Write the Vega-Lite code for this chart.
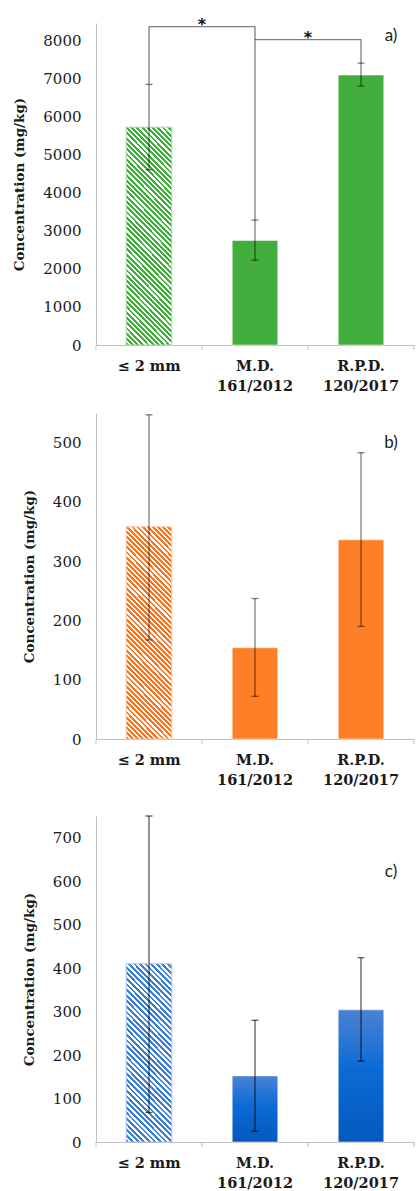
{
"$schema": "https://vega.github.io/schema/vega-lite/v6.json",
"background": "white",
"padding": {"left": 12, "top": 16, "right": 0, "bottom": 0},
"spacing": 28,
"config": {
  "view": {"stroke": null},
  "axisX": {"domainColor": "#c0c0c0", "ticks": false, "labelFont": "DejaVu Serif", "labelFontWeight": "bold", "labelFontSize": 14.5, "labelColor": "#1a1a1a", "labelAngle": 0, "labelPadding": 14, "labelLineHeight": 20, "labelExpr": "indexof(datum.value, '/') > 0 ? split(datum.value, ' ') : datum.value"},
  "axisY": {"domainColor": "#c0c0c0", "ticks": false, "grid": false, "format": "d", "labelFont": "DejaVu Serif", "labelFontSize": 15, "labelColor": "#1a1a1a", "labelPadding": 15, "titleFont": "DejaVu Serif", "titleFontSize": 13.5, "titleFontWeight": "bold", "titleColor": "#1a1a1a", "titlePadding": 16}
},
"datasets": {
  "a": [{"cat": "≤ 2 mm", "value": 5730, "lo": 4610, "hi": 6855}, {"cat": "M.D. 161/2012", "value": 2750, "lo": 2230, "hi": 3285}, {"cat": "R.P.D. 120/2017", "value": 7100, "lo": 6810, "hi": 7415}],
  "b": [{"cat": "≤ 2 mm", "value": 358, "lo": 167, "hi": 547}, {"cat": "M.D. 161/2012", "value": 154, "lo": 72, "hi": 237}, {"cat": "R.P.D. 120/2017", "value": 336, "lo": 190, "hi": 483}],
  "c": [{"cat": "≤ 2 mm", "value": 410, "lo": 68, "hi": 750}, {"cat": "M.D. 161/2012", "value": 152, "lo": 25, "hi": 280}, {"cat": "R.P.D. 120/2017", "value": 304, "lo": 186, "hi": 424}],
  "bracketV": [{"cat": "≤ 2 mm", "y": 6855, "y2": 8375}, {"cat": "M.D. 161/2012", "y": 3285, "y2": 8375}, {"cat": "R.P.D. 120/2017", "y": 7415, "y2": 8035}],
  "bracketH": [{"grp": 1, "cat": "≤ 2 mm", "y": 8375}, {"grp": 1, "cat": "M.D. 161/2012", "y": 8375}, {"grp": 2, "cat": "M.D. 161/2012", "y": 8035}, {"grp": 2, "cat": "R.P.D. 120/2017", "y": 8035}],
  "stars": [{"cat": "≤ 2 mm", "y": 8375, "text": "*"}, {"cat": "M.D. 161/2012", "y": 8035, "text": "*"}],
  "cats": [{"cat": "≤ 2 mm"}, {"cat": "M.D. 161/2012"}, {"cat": "R.P.D. 120/2017"}],
  "lastcat": [{"cat": "R.P.D. 120/2017"}],
  "tagA": [{"cat": "R.P.D. 120/2017", "y": 8120, "text": "a)"}],
  "tagB": [{"cat": "R.P.D. 120/2017", "y": 500, "text": "b)"}],
  "tagC": [{"cat": "R.P.D. 120/2017", "y": 622, "text": "c)"}]
},
"vconcat": [
{
"spacing": 20,
"vconcat": [
{
  "width": 318, "height": 322,
  "encoding": {"x": {"field": "cat", "type": "nominal", "sort": ["≤ 2 mm", "M.D. 161/2012", "R.P.D. 120/2017"], "scale": {"paddingInner": 0, "paddingOuter": 0}, "title": null}},
  "layer": [
    {"data": {"name": "a"}, "transform": [{"filter": "datum.cat != '≤ 2 mm'"}],
     "mark": {"type": "bar", "width": {"band": 0.43}, "fill": "#43ad3e", "stroke": "#ffffff", "strokeWidth": 1, "strokeOpacity": 0.5},
     "encoding": {"y": {"field": "value", "type": "quantitative", "title": "Concentration (mg/kg)", "scale": {"domain": [0, 8470], "nice": false, "zero": true}, "axis": {"values": [0, 1000, 2000, 3000, 4000, 5000, 6000, 7000, 8000]}}}},
    {"data": {"name": "a"}, "transform": [{"filter": "datum.cat == '≤ 2 mm'"}],
     "mark": {"type": "bar", "width": {"band": 0.43}, "stroke": "#a9dba6", "strokeWidth": 1,
       "fill": {"gradient": "linear", "x1": 0, "y1": 1, "x2": 0.245, "y2": -0.159, "stops": [
{"offset":0,"color":"#42ae3e"},{"offset":0.011,"color":"#42ae3e"},{"offset":0.011,"color":"#fff"},{"offset":0.02,"color":"#fff"},
{"offset":0.02,"color":"#42ae3e"},{"offset":0.031,"color":"#42ae3e"},{"offset":0.031,"color":"#fff"},{"offset":0.04,"color":"#fff"},
{"offset":0.04,"color":"#42ae3e"},{"offset":0.051,"color":"#42ae3e"},{"offset":0.051,"color":"#fff"},{"offset":0.06,"color":"#fff"},
{"offset":0.06,"color":"#42ae3e"},{"offset":0.071,"color":"#42ae3e"},{"offset":0.071,"color":"#fff"},{"offset":0.08,"color":"#fff"},
{"offset":0.08,"color":"#42ae3e"},{"offset":0.091,"color":"#42ae3e"},{"offset":0.091,"color":"#fff"},{"offset":0.1,"color":"#fff"},
{"offset":0.1,"color":"#42ae3e"},{"offset":0.111,"color":"#42ae3e"},{"offset":0.111,"color":"#fff"},{"offset":0.12,"color":"#fff"},
{"offset":0.12,"color":"#42ae3e"},{"offset":0.131,"color":"#42ae3e"},{"offset":0.131,"color":"#fff"},{"offset":0.14,"color":"#fff"},
{"offset":0.14,"color":"#42ae3e"},{"offset":0.151,"color":"#42ae3e"},{"offset":0.151,"color":"#fff"},{"offset":0.16,"color":"#fff"},
{"offset":0.16,"color":"#42ae3e"},{"offset":0.171,"color":"#42ae3e"},{"offset":0.171,"color":"#fff"},{"offset":0.18,"color":"#fff"},
{"offset":0.18,"color":"#42ae3e"},{"offset":0.191,"color":"#42ae3e"},{"offset":0.191,"color":"#fff"},{"offset":0.2,"color":"#fff"},
{"offset":0.2,"color":"#42ae3e"},{"offset":0.211,"color":"#42ae3e"},{"offset":0.211,"color":"#fff"},{"offset":0.22,"color":"#fff"},
{"offset":0.22,"color":"#42ae3e"},{"offset":0.231,"color":"#42ae3e"},{"offset":0.231,"color":"#fff"},{"offset":0.24,"color":"#fff"},
{"offset":0.24,"color":"#42ae3e"},{"offset":0.251,"color":"#42ae3e"},{"offset":0.251,"color":"#fff"},{"offset":0.26,"color":"#fff"},
{"offset":0.26,"color":"#42ae3e"},{"offset":0.271,"color":"#42ae3e"},{"offset":0.271,"color":"#fff"},{"offset":0.28,"color":"#fff"},
{"offset":0.28,"color":"#42ae3e"},{"offset":0.291,"color":"#42ae3e"},{"offset":0.291,"color":"#fff"},{"offset":0.3,"color":"#fff"},
{"offset":0.3,"color":"#42ae3e"},{"offset":0.311,"color":"#42ae3e"},{"offset":0.311,"color":"#fff"},{"offset":0.32,"color":"#fff"},
{"offset":0.32,"color":"#42ae3e"},{"offset":0.331,"color":"#42ae3e"},{"offset":0.331,"color":"#fff"},{"offset":0.34,"color":"#fff"},
{"offset":0.34,"color":"#42ae3e"},{"offset":0.351,"color":"#42ae3e"},{"offset":0.351,"color":"#fff"},{"offset":0.36,"color":"#fff"},
{"offset":0.36,"color":"#42ae3e"},{"offset":0.371,"color":"#42ae3e"},{"offset":0.371,"color":"#fff"},{"offset":0.38,"color":"#fff"},
{"offset":0.38,"color":"#42ae3e"},{"offset":0.391,"color":"#42ae3e"},{"offset":0.391,"color":"#fff"},{"offset":0.4,"color":"#fff"},
{"offset":0.4,"color":"#42ae3e"},{"offset":0.411,"color":"#42ae3e"},{"offset":0.411,"color":"#fff"},{"offset":0.42,"color":"#fff"},
{"offset":0.42,"color":"#42ae3e"},{"offset":0.431,"color":"#42ae3e"},{"offset":0.431,"color":"#fff"},{"offset":0.44,"color":"#fff"},
{"offset":0.44,"color":"#42ae3e"},{"offset":0.451,"color":"#42ae3e"},{"offset":0.451,"color":"#fff"},{"offset":0.46,"color":"#fff"},
{"offset":0.46,"color":"#42ae3e"},{"offset":0.471,"color":"#42ae3e"},{"offset":0.471,"color":"#fff"},{"offset":0.48,"color":"#fff"},
{"offset":0.48,"color":"#42ae3e"},{"offset":0.491,"color":"#42ae3e"},{"offset":0.491,"color":"#fff"},{"offset":0.5,"color":"#fff"},
{"offset":0.5,"color":"#42ae3e"},{"offset":0.511,"color":"#42ae3e"},{"offset":0.511,"color":"#fff"},{"offset":0.52,"color":"#fff"},
{"offset":0.52,"color":"#42ae3e"},{"offset":0.531,"color":"#42ae3e"},{"offset":0.531,"color":"#fff"},{"offset":0.54,"color":"#fff"},
{"offset":0.54,"color":"#42ae3e"},{"offset":0.551,"color":"#42ae3e"},{"offset":0.551,"color":"#fff"},{"offset":0.56,"color":"#fff"},
{"offset":0.56,"color":"#42ae3e"},{"offset":0.571,"color":"#42ae3e"},{"offset":0.571,"color":"#fff"},{"offset":0.58,"color":"#fff"},
{"offset":0.58,"color":"#42ae3e"},{"offset":0.591,"color":"#42ae3e"},{"offset":0.591,"color":"#fff"},{"offset":0.6,"color":"#fff"},
{"offset":0.6,"color":"#42ae3e"},{"offset":0.611,"color":"#42ae3e"},{"offset":0.611,"color":"#fff"},{"offset":0.62,"color":"#fff"},
{"offset":0.62,"color":"#42ae3e"},{"offset":0.631,"color":"#42ae3e"},{"offset":0.631,"color":"#fff"},{"offset":0.64,"color":"#fff"},
{"offset":0.64,"color":"#42ae3e"},{"offset":0.651,"color":"#42ae3e"},{"offset":0.651,"color":"#fff"},{"offset":0.66,"color":"#fff"},
{"offset":0.66,"color":"#42ae3e"},{"offset":0.671,"color":"#42ae3e"},{"offset":0.671,"color":"#fff"},{"offset":0.68,"color":"#fff"},
{"offset":0.68,"color":"#42ae3e"},{"offset":0.691,"color":"#42ae3e"},{"offset":0.691,"color":"#fff"},{"offset":0.7,"color":"#fff"},
{"offset":0.7,"color":"#42ae3e"},{"offset":0.711,"color":"#42ae3e"},{"offset":0.711,"color":"#fff"},{"offset":0.72,"color":"#fff"},
{"offset":0.72,"color":"#42ae3e"},{"offset":0.731,"color":"#42ae3e"},{"offset":0.731,"color":"#fff"},{"offset":0.74,"color":"#fff"},
{"offset":0.74,"color":"#42ae3e"},{"offset":0.751,"color":"#42ae3e"},{"offset":0.751,"color":"#fff"},{"offset":0.76,"color":"#fff"},
{"offset":0.76,"color":"#42ae3e"},{"offset":0.771,"color":"#42ae3e"},{"offset":0.771,"color":"#fff"},{"offset":0.78,"color":"#fff"},
{"offset":0.78,"color":"#42ae3e"},{"offset":0.791,"color":"#42ae3e"},{"offset":0.791,"color":"#fff"},{"offset":0.8,"color":"#fff"},
{"offset":0.8,"color":"#42ae3e"},{"offset":0.811,"color":"#42ae3e"},{"offset":0.811,"color":"#fff"},{"offset":0.82,"color":"#fff"},
{"offset":0.82,"color":"#42ae3e"},{"offset":0.831,"color":"#42ae3e"},{"offset":0.831,"color":"#fff"},{"offset":0.84,"color":"#fff"},
{"offset":0.84,"color":"#42ae3e"},{"offset":0.851,"color":"#42ae3e"},{"offset":0.851,"color":"#fff"},{"offset":0.86,"color":"#fff"},
{"offset":0.86,"color":"#42ae3e"},{"offset":0.871,"color":"#42ae3e"},{"offset":0.871,"color":"#fff"},{"offset":0.88,"color":"#fff"},
{"offset":0.88,"color":"#42ae3e"},{"offset":0.891,"color":"#42ae3e"},{"offset":0.891,"color":"#fff"},{"offset":0.9,"color":"#fff"},
{"offset":0.9,"color":"#42ae3e"},{"offset":0.911,"color":"#42ae3e"},{"offset":0.911,"color":"#fff"},{"offset":0.92,"color":"#fff"},
{"offset":0.92,"color":"#42ae3e"},{"offset":0.931,"color":"#42ae3e"},{"offset":0.931,"color":"#fff"},{"offset":0.94,"color":"#fff"},
{"offset":0.94,"color":"#42ae3e"},{"offset":0.951,"color":"#42ae3e"},{"offset":0.951,"color":"#fff"},{"offset":0.96,"color":"#fff"},
{"offset":0.96,"color":"#42ae3e"},{"offset":0.971,"color":"#42ae3e"},{"offset":0.971,"color":"#fff"},{"offset":0.98,"color":"#fff"},
{"offset":0.98,"color":"#42ae3e"},{"offset":0.991,"color":"#42ae3e"},{"offset":0.991,"color":"#fff"},{"offset":1,"color":"#fff"}
       ]}},
     "encoding": {"y": {"field": "value", "type": "quantitative", "title": "Concentration (mg/kg)"}}},
    {"data": {"name": "a"},
     "mark": {"type": "errorbar", "ticks": {"size": 7}, "color": "#000", "opacity": 0.5, "thickness": 1.3},
     "encoding": {"y": {"field": "lo", "type": "quantitative", "title": "Concentration (mg/kg)"}, "y2": {"field": "hi"}}},
    {"data": {"name": "bracketV"},
     "mark": {"type": "rule", "color": "#000", "opacity": 0.5, "strokeWidth": 1.3},
     "encoding": {"y": {"field": "y", "type": "quantitative", "title": "Concentration (mg/kg)"}, "y2": {"field": "y2"}}},
    {"data": {"name": "bracketH"},
     "mark": {"type": "line", "color": "#000", "opacity": 0.5, "strokeWidth": 1.3},
     "encoding": {"y": {"field": "y", "type": "quantitative", "title": "Concentration (mg/kg)"}, "detail": {"field": "grp", "type": "nominal"}}},
    {"data": {"name": "cats"},
     "mark": {"type": "rule", "color": "#c0c0c0", "y2Offset": 5},
     "encoding": {"x": {"field": "cat", "type": "nominal", "sort": ["≤ 2 mm", "M.D. 161/2012", "R.P.D. 120/2017"], "bandPosition": 0, "title": null}, "y": {"datum": 0, "type": "quantitative", "title": "Concentration (mg/kg)"}, "y2": {"datum": 0}}},
    {"data": {"name": "lastcat"},
     "mark": {"type": "rule", "color": "#c0c0c0", "y2Offset": 5},
     "encoding": {"x": {"field": "cat", "type": "nominal", "sort": ["≤ 2 mm", "M.D. 161/2012", "R.P.D. 120/2017"], "bandPosition": 1, "title": null}, "y": {"datum": 0, "type": "quantitative", "title": "Concentration (mg/kg)"}, "y2": {"datum": 0}}},
    {"data": {"name": "stars"},
     "mark": {"type": "text", "font": "DejaVu Sans", "fontWeight": "bold", "fontSize": 16, "baseline": "alphabetic", "dy": 3, "color": "#111"},
     "encoding": {"x": {"field": "cat", "type": "nominal", "sort": ["≤ 2 mm", "M.D. 161/2012", "R.P.D. 120/2017"], "bandPosition": 1, "title": null}, "y": {"field": "y", "type": "quantitative", "title": "Concentration (mg/kg)"}, "text": {"field": "text"}}},
    {"data": {"name": "tagA"},
     "mark": {"type": "text", "font": "Lato", "fontSize": 17, "align": "center", "baseline": "middle", "dx": 30, "color": "#222"},
     "encoding": {"y": {"field": "y", "type": "quantitative", "title": "Concentration (mg/kg)"}, "text": {"field": "text"}}}
  ]
},
{
  "width": 318, "height": 326,
  "encoding": {"x": {"field": "cat", "type": "nominal", "sort": ["≤ 2 mm", "M.D. 161/2012", "R.P.D. 120/2017"], "scale": {"paddingInner": 0, "paddingOuter": 0}, "title": null}},
  "layer": [
    {"data": {"name": "b"}, "transform": [{"filter": "datum.cat != '≤ 2 mm'"}],
     "mark": {"type": "bar", "width": {"band": 0.43}, "fill": "#ff7f27", "stroke": "#ffffff", "strokeWidth": 1, "strokeOpacity": 0.5},
     "encoding": {"y": {"field": "value", "type": "quantitative", "title": "Concentration (mg/kg)", "scale": {"domain": [0, 550], "nice": false, "zero": true}, "axis": {"values": [0, 100, 200, 300, 400, 500]}}}},
    {"data": {"name": "b"}, "transform": [{"filter": "datum.cat == '≤ 2 mm'"}],
     "mark": {"type": "bar", "width": {"band": 0.43}, "stroke": "#fbc39c", "strokeWidth": 1,
       "fill": {"gradient": "linear", "x1": 0, "y1": 1, "x2": 0.252, "y2": -0.162, "stops": [
{"offset":0,"color":"#f8761f"},{"offset":0.011,"color":"#f8761f"},{"offset":0.011,"color":"#fff"},{"offset":0.02,"color":"#fff"},
{"offset":0.02,"color":"#f8761f"},{"offset":0.031,"color":"#f8761f"},{"offset":0.031,"color":"#fff"},{"offset":0.04,"color":"#fff"},
{"offset":0.04,"color":"#f8761f"},{"offset":0.051,"color":"#f8761f"},{"offset":0.051,"color":"#fff"},{"offset":0.06,"color":"#fff"},
{"offset":0.06,"color":"#f8761f"},{"offset":0.071,"color":"#f8761f"},{"offset":0.071,"color":"#fff"},{"offset":0.08,"color":"#fff"},
{"offset":0.08,"color":"#f8761f"},{"offset":0.091,"color":"#f8761f"},{"offset":0.091,"color":"#fff"},{"offset":0.1,"color":"#fff"},
{"offset":0.1,"color":"#f8761f"},{"offset":0.111,"color":"#f8761f"},{"offset":0.111,"color":"#fff"},{"offset":0.12,"color":"#fff"},
{"offset":0.12,"color":"#f8761f"},{"offset":0.131,"color":"#f8761f"},{"offset":0.131,"color":"#fff"},{"offset":0.14,"color":"#fff"},
{"offset":0.14,"color":"#f8761f"},{"offset":0.151,"color":"#f8761f"},{"offset":0.151,"color":"#fff"},{"offset":0.16,"color":"#fff"},
{"offset":0.16,"color":"#f8761f"},{"offset":0.171,"color":"#f8761f"},{"offset":0.171,"color":"#fff"},{"offset":0.18,"color":"#fff"},
{"offset":0.18,"color":"#f8761f"},{"offset":0.191,"color":"#f8761f"},{"offset":0.191,"color":"#fff"},{"offset":0.2,"color":"#fff"},
{"offset":0.2,"color":"#f8761f"},{"offset":0.211,"color":"#f8761f"},{"offset":0.211,"color":"#fff"},{"offset":0.22,"color":"#fff"},
{"offset":0.22,"color":"#f8761f"},{"offset":0.231,"color":"#f8761f"},{"offset":0.231,"color":"#fff"},{"offset":0.24,"color":"#fff"},
{"offset":0.24,"color":"#f8761f"},{"offset":0.251,"color":"#f8761f"},{"offset":0.251,"color":"#fff"},{"offset":0.26,"color":"#fff"},
{"offset":0.26,"color":"#f8761f"},{"offset":0.271,"color":"#f8761f"},{"offset":0.271,"color":"#fff"},{"offset":0.28,"color":"#fff"},
{"offset":0.28,"color":"#f8761f"},{"offset":0.291,"color":"#f8761f"},{"offset":0.291,"color":"#fff"},{"offset":0.3,"color":"#fff"},
{"offset":0.3,"color":"#f8761f"},{"offset":0.311,"color":"#f8761f"},{"offset":0.311,"color":"#fff"},{"offset":0.32,"color":"#fff"},
{"offset":0.32,"color":"#f8761f"},{"offset":0.331,"color":"#f8761f"},{"offset":0.331,"color":"#fff"},{"offset":0.34,"color":"#fff"},
{"offset":0.34,"color":"#f8761f"},{"offset":0.351,"color":"#f8761f"},{"offset":0.351,"color":"#fff"},{"offset":0.36,"color":"#fff"},
{"offset":0.36,"color":"#f8761f"},{"offset":0.371,"color":"#f8761f"},{"offset":0.371,"color":"#fff"},{"offset":0.38,"color":"#fff"},
{"offset":0.38,"color":"#f8761f"},{"offset":0.391,"color":"#f8761f"},{"offset":0.391,"color":"#fff"},{"offset":0.4,"color":"#fff"},
{"offset":0.4,"color":"#f8761f"},{"offset":0.411,"color":"#f8761f"},{"offset":0.411,"color":"#fff"},{"offset":0.42,"color":"#fff"},
{"offset":0.42,"color":"#f8761f"},{"offset":0.431,"color":"#f8761f"},{"offset":0.431,"color":"#fff"},{"offset":0.44,"color":"#fff"},
{"offset":0.44,"color":"#f8761f"},{"offset":0.451,"color":"#f8761f"},{"offset":0.451,"color":"#fff"},{"offset":0.46,"color":"#fff"},
{"offset":0.46,"color":"#f8761f"},{"offset":0.471,"color":"#f8761f"},{"offset":0.471,"color":"#fff"},{"offset":0.48,"color":"#fff"},
{"offset":0.48,"color":"#f8761f"},{"offset":0.491,"color":"#f8761f"},{"offset":0.491,"color":"#fff"},{"offset":0.5,"color":"#fff"},
{"offset":0.5,"color":"#f8761f"},{"offset":0.511,"color":"#f8761f"},{"offset":0.511,"color":"#fff"},{"offset":0.52,"color":"#fff"},
{"offset":0.52,"color":"#f8761f"},{"offset":0.531,"color":"#f8761f"},{"offset":0.531,"color":"#fff"},{"offset":0.54,"color":"#fff"},
{"offset":0.54,"color":"#f8761f"},{"offset":0.551,"color":"#f8761f"},{"offset":0.551,"color":"#fff"},{"offset":0.56,"color":"#fff"},
{"offset":0.56,"color":"#f8761f"},{"offset":0.571,"color":"#f8761f"},{"offset":0.571,"color":"#fff"},{"offset":0.58,"color":"#fff"},
{"offset":0.58,"color":"#f8761f"},{"offset":0.591,"color":"#f8761f"},{"offset":0.591,"color":"#fff"},{"offset":0.6,"color":"#fff"},
{"offset":0.6,"color":"#f8761f"},{"offset":0.611,"color":"#f8761f"},{"offset":0.611,"color":"#fff"},{"offset":0.62,"color":"#fff"},
{"offset":0.62,"color":"#f8761f"},{"offset":0.631,"color":"#f8761f"},{"offset":0.631,"color":"#fff"},{"offset":0.64,"color":"#fff"},
{"offset":0.64,"color":"#f8761f"},{"offset":0.651,"color":"#f8761f"},{"offset":0.651,"color":"#fff"},{"offset":0.66,"color":"#fff"},
{"offset":0.66,"color":"#f8761f"},{"offset":0.671,"color":"#f8761f"},{"offset":0.671,"color":"#fff"},{"offset":0.68,"color":"#fff"},
{"offset":0.68,"color":"#f8761f"},{"offset":0.691,"color":"#f8761f"},{"offset":0.691,"color":"#fff"},{"offset":0.7,"color":"#fff"},
{"offset":0.7,"color":"#f8761f"},{"offset":0.711,"color":"#f8761f"},{"offset":0.711,"color":"#fff"},{"offset":0.72,"color":"#fff"},
{"offset":0.72,"color":"#f8761f"},{"offset":0.731,"color":"#f8761f"},{"offset":0.731,"color":"#fff"},{"offset":0.74,"color":"#fff"},
{"offset":0.74,"color":"#f8761f"},{"offset":0.751,"color":"#f8761f"},{"offset":0.751,"color":"#fff"},{"offset":0.76,"color":"#fff"},
{"offset":0.76,"color":"#f8761f"},{"offset":0.771,"color":"#f8761f"},{"offset":0.771,"color":"#fff"},{"offset":0.78,"color":"#fff"},
{"offset":0.78,"color":"#f8761f"},{"offset":0.791,"color":"#f8761f"},{"offset":0.791,"color":"#fff"},{"offset":0.8,"color":"#fff"},
{"offset":0.8,"color":"#f8761f"},{"offset":0.811,"color":"#f8761f"},{"offset":0.811,"color":"#fff"},{"offset":0.82,"color":"#fff"},
{"offset":0.82,"color":"#f8761f"},{"offset":0.831,"color":"#f8761f"},{"offset":0.831,"color":"#fff"},{"offset":0.84,"color":"#fff"},
{"offset":0.84,"color":"#f8761f"},{"offset":0.851,"color":"#f8761f"},{"offset":0.851,"color":"#fff"},{"offset":0.86,"color":"#fff"},
{"offset":0.86,"color":"#f8761f"},{"offset":0.871,"color":"#f8761f"},{"offset":0.871,"color":"#fff"},{"offset":0.88,"color":"#fff"},
{"offset":0.88,"color":"#f8761f"},{"offset":0.891,"color":"#f8761f"},{"offset":0.891,"color":"#fff"},{"offset":0.9,"color":"#fff"},
{"offset":0.9,"color":"#f8761f"},{"offset":0.911,"color":"#f8761f"},{"offset":0.911,"color":"#fff"},{"offset":0.92,"color":"#fff"},
{"offset":0.92,"color":"#f8761f"},{"offset":0.931,"color":"#f8761f"},{"offset":0.931,"color":"#fff"},{"offset":0.94,"color":"#fff"},
{"offset":0.94,"color":"#f8761f"},{"offset":0.951,"color":"#f8761f"},{"offset":0.951,"color":"#fff"},{"offset":0.96,"color":"#fff"},
{"offset":0.96,"color":"#f8761f"},{"offset":0.971,"color":"#f8761f"},{"offset":0.971,"color":"#fff"},{"offset":0.98,"color":"#fff"},
{"offset":0.98,"color":"#f8761f"},{"offset":0.991,"color":"#f8761f"},{"offset":0.991,"color":"#fff"},{"offset":1,"color":"#fff"}
       ]}},
     "encoding": {"y": {"field": "value", "type": "quantitative", "title": "Concentration (mg/kg)"}}},
    {"data": {"name": "b"},
     "mark": {"type": "errorbar", "ticks": {"size": 7}, "color": "#000", "opacity": 0.5, "thickness": 1.3},
     "encoding": {"y": {"field": "lo", "type": "quantitative", "title": "Concentration (mg/kg)"}, "y2": {"field": "hi"}}},
    {"data": {"name": "cats"},
     "mark": {"type": "rule", "color": "#c0c0c0", "y2Offset": 5},
     "encoding": {"x": {"field": "cat", "type": "nominal", "sort": ["≤ 2 mm", "M.D. 161/2012", "R.P.D. 120/2017"], "bandPosition": 0, "title": null}, "y": {"datum": 0, "type": "quantitative", "title": "Concentration (mg/kg)"}, "y2": {"datum": 0}}},
    {"data": {"name": "lastcat"},
     "mark": {"type": "rule", "color": "#c0c0c0", "y2Offset": 5},
     "encoding": {"x": {"field": "cat", "type": "nominal", "sort": ["≤ 2 mm", "M.D. 161/2012", "R.P.D. 120/2017"], "bandPosition": 1, "title": null}, "y": {"datum": 0, "type": "quantitative", "title": "Concentration (mg/kg)"}, "y2": {"datum": 0}}},
    {"data": {"name": "tagB"},
     "mark": {"type": "text", "font": "Lato", "fontSize": 17, "align": "center", "baseline": "middle", "dx": 30, "color": "#222"},
     "encoding": {"y": {"field": "y", "type": "quantitative", "title": "Concentration (mg/kg)"}, "text": {"field": "text"}}}
  ]
}
]
},
{
  "width": 318, "height": 326,
  "encoding": {"x": {"field": "cat", "type": "nominal", "sort": ["≤ 2 mm", "M.D. 161/2012", "R.P.D. 120/2017"], "scale": {"paddingInner": 0, "paddingOuter": 0}, "title": null}},
  "layer": [
    {"data": {"name": "c"}, "transform": [{"filter": "datum.cat != '≤ 2 mm'"}],
     "mark": {"type": "bar", "width": {"band": 0.43}, "stroke": "#ffffff", "strokeWidth": 1, "strokeOpacity": 0.5,
       "fill": {"gradient": "linear", "x1": 0, "y1": 0, "x2": 0, "y2": 1, "stops": [{"offset": 0, "color": "#4a82d2"}, {"offset": 0.45, "color": "#0b6bd6"}, {"offset": 1, "color": "#0459be"}]}},
     "encoding": {"y": {"field": "value", "type": "quantitative", "title": "Concentration (mg/kg)", "scale": {"domain": [0, 750], "nice": false, "zero": true}, "axis": {"values": [0, 100, 200, 300, 400, 500, 600, 700]}}}},
    {"data": {"name": "c"}, "transform": [{"filter": "datum.cat == '≤ 2 mm'"}],
     "mark": {"type": "bar", "width": {"band": 0.43}, "stroke": "#a8c6ee", "strokeWidth": 1,
       "fill": {"gradient": "linear", "x1": 0, "y1": 1, "x2": 0.304, "y2": -0.179, "stops": [
{"offset":0,"color":"#3a7fd6"},{"offset":0.0125,"color":"#3a7fd6"},{"offset":0.0125,"color":"#fff"},{"offset":0.025,"color":"#fff"},
{"offset":0.025,"color":"#3a7fd6"},{"offset":0.0375,"color":"#3a7fd6"},{"offset":0.0375,"color":"#fff"},{"offset":0.05,"color":"#fff"},
{"offset":0.05,"color":"#3a7fd6"},{"offset":0.0625,"color":"#3a7fd6"},{"offset":0.0625,"color":"#fff"},{"offset":0.075,"color":"#fff"},
{"offset":0.075,"color":"#3a7fd6"},{"offset":0.0875,"color":"#3a7fd6"},{"offset":0.0875,"color":"#fff"},{"offset":0.1,"color":"#fff"},
{"offset":0.1,"color":"#3a7fd6"},{"offset":0.1125,"color":"#3a7fd6"},{"offset":0.1125,"color":"#fff"},{"offset":0.125,"color":"#fff"},
{"offset":0.125,"color":"#3a7fd6"},{"offset":0.1375,"color":"#3a7fd6"},{"offset":0.1375,"color":"#fff"},{"offset":0.15,"color":"#fff"},
{"offset":0.15,"color":"#3a7fd6"},{"offset":0.1625,"color":"#3a7fd6"},{"offset":0.1625,"color":"#fff"},{"offset":0.175,"color":"#fff"},
{"offset":0.175,"color":"#3a7fd6"},{"offset":0.1875,"color":"#3a7fd6"},{"offset":0.1875,"color":"#fff"},{"offset":0.2,"color":"#fff"},
{"offset":0.2,"color":"#3a7fd6"},{"offset":0.2125,"color":"#3a7fd6"},{"offset":0.2125,"color":"#fff"},{"offset":0.225,"color":"#fff"},
{"offset":0.225,"color":"#3a7fd6"},{"offset":0.2375,"color":"#3a7fd6"},{"offset":0.2375,"color":"#fff"},{"offset":0.25,"color":"#fff"},
{"offset":0.25,"color":"#3a7fd6"},{"offset":0.2625,"color":"#3a7fd6"},{"offset":0.2625,"color":"#fff"},{"offset":0.275,"color":"#fff"},
{"offset":0.275,"color":"#3a7fd6"},{"offset":0.2875,"color":"#3a7fd6"},{"offset":0.2875,"color":"#fff"},{"offset":0.3,"color":"#fff"},
{"offset":0.3,"color":"#3a7fd6"},{"offset":0.3125,"color":"#3a7fd6"},{"offset":0.3125,"color":"#fff"},{"offset":0.325,"color":"#fff"},
{"offset":0.325,"color":"#3a7fd6"},{"offset":0.3375,"color":"#3a7fd6"},{"offset":0.3375,"color":"#fff"},{"offset":0.35,"color":"#fff"},
{"offset":0.35,"color":"#3a7fd6"},{"offset":0.3625,"color":"#3a7fd6"},{"offset":0.3625,"color":"#fff"},{"offset":0.375,"color":"#fff"},
{"offset":0.375,"color":"#3a7fd6"},{"offset":0.3875,"color":"#3a7fd6"},{"offset":0.3875,"color":"#fff"},{"offset":0.4,"color":"#fff"},
{"offset":0.4,"color":"#3a7fd6"},{"offset":0.4125,"color":"#3a7fd6"},{"offset":0.4125,"color":"#fff"},{"offset":0.425,"color":"#fff"},
{"offset":0.425,"color":"#3a7fd6"},{"offset":0.4375,"color":"#3a7fd6"},{"offset":0.4375,"color":"#fff"},{"offset":0.45,"color":"#fff"},
{"offset":0.45,"color":"#3a7fd6"},{"offset":0.4625,"color":"#3a7fd6"},{"offset":0.4625,"color":"#fff"},{"offset":0.475,"color":"#fff"},
{"offset":0.475,"color":"#3a7fd6"},{"offset":0.4875,"color":"#3a7fd6"},{"offset":0.4875,"color":"#fff"},{"offset":0.5,"color":"#fff"},
{"offset":0.5,"color":"#3a7fd6"},{"offset":0.5125,"color":"#3a7fd6"},{"offset":0.5125,"color":"#fff"},{"offset":0.525,"color":"#fff"},
{"offset":0.525,"color":"#3a7fd6"},{"offset":0.5375,"color":"#3a7fd6"},{"offset":0.5375,"color":"#fff"},{"offset":0.55,"color":"#fff"},
{"offset":0.55,"color":"#3a7fd6"},{"offset":0.5625,"color":"#3a7fd6"},{"offset":0.5625,"color":"#fff"},{"offset":0.575,"color":"#fff"},
{"offset":0.575,"color":"#3a7fd6"},{"offset":0.5875,"color":"#3a7fd6"},{"offset":0.5875,"color":"#fff"},{"offset":0.6,"color":"#fff"},
{"offset":0.6,"color":"#3a7fd6"},{"offset":0.6125,"color":"#3a7fd6"},{"offset":0.6125,"color":"#fff"},{"offset":0.625,"color":"#fff"},
{"offset":0.625,"color":"#3a7fd6"},{"offset":0.6375,"color":"#3a7fd6"},{"offset":0.6375,"color":"#fff"},{"offset":0.65,"color":"#fff"},
{"offset":0.65,"color":"#3a7fd6"},{"offset":0.6625,"color":"#3a7fd6"},{"offset":0.6625,"color":"#fff"},{"offset":0.675,"color":"#fff"},
{"offset":0.675,"color":"#3a7fd6"},{"offset":0.6875,"color":"#3a7fd6"},{"offset":0.6875,"color":"#fff"},{"offset":0.7,"color":"#fff"},
{"offset":0.7,"color":"#3a7fd6"},{"offset":0.7125,"color":"#3a7fd6"},{"offset":0.7125,"color":"#fff"},{"offset":0.725,"color":"#fff"},
{"offset":0.725,"color":"#3a7fd6"},{"offset":0.7375,"color":"#3a7fd6"},{"offset":0.7375,"color":"#fff"},{"offset":0.75,"color":"#fff"},
{"offset":0.75,"color":"#3a7fd6"},{"offset":0.7625,"color":"#3a7fd6"},{"offset":0.7625,"color":"#fff"},{"offset":0.775,"color":"#fff"},
{"offset":0.775,"color":"#3a7fd6"},{"offset":0.7875,"color":"#3a7fd6"},{"offset":0.7875,"color":"#fff"},{"offset":0.8,"color":"#fff"},
{"offset":0.8,"color":"#3a7fd6"},{"offset":0.8125,"color":"#3a7fd6"},{"offset":0.8125,"color":"#fff"},{"offset":0.825,"color":"#fff"},
{"offset":0.825,"color":"#3a7fd6"},{"offset":0.8375,"color":"#3a7fd6"},{"offset":0.8375,"color":"#fff"},{"offset":0.85,"color":"#fff"},
{"offset":0.85,"color":"#3a7fd6"},{"offset":0.8625,"color":"#3a7fd6"},{"offset":0.8625,"color":"#fff"},{"offset":0.875,"color":"#fff"},
{"offset":0.875,"color":"#3a7fd6"},{"offset":0.8875,"color":"#3a7fd6"},{"offset":0.8875,"color":"#fff"},{"offset":0.9,"color":"#fff"},
{"offset":0.9,"color":"#3a7fd6"},{"offset":0.9125,"color":"#3a7fd6"},{"offset":0.9125,"color":"#fff"},{"offset":0.925,"color":"#fff"},
{"offset":0.925,"color":"#3a7fd6"},{"offset":0.9375,"color":"#3a7fd6"},{"offset":0.9375,"color":"#fff"},{"offset":0.95,"color":"#fff"},
{"offset":0.95,"color":"#3a7fd6"},{"offset":0.9625,"color":"#3a7fd6"},{"offset":0.9625,"color":"#fff"},{"offset":0.975,"color":"#fff"},
{"offset":0.975,"color":"#3a7fd6"},{"offset":0.9875,"color":"#3a7fd6"},{"offset":0.9875,"color":"#fff"},{"offset":1,"color":"#fff"}
       ]}},
     "encoding": {"y": {"field": "value", "type": "quantitative", "title": "Concentration (mg/kg)"}}},
    {"data": {"name": "c"},
     "mark": {"type": "errorbar", "ticks": {"size": 7}, "color": "#000", "opacity": 0.65, "thickness": 1.3},
     "encoding": {"y": {"field": "lo", "type": "quantitative", "title": "Concentration (mg/kg)"}, "y2": {"field": "hi"}}},
    {"data": {"name": "cats"},
     "mark": {"type": "rule", "color": "#c0c0c0", "y2Offset": 5},
     "encoding": {"x": {"field": "cat", "type": "nominal", "sort": ["≤ 2 mm", "M.D. 161/2012", "R.P.D. 120/2017"], "bandPosition": 0, "title": null}, "y": {"datum": 0, "type": "quantitative", "title": "Concentration (mg/kg)"}, "y2": {"datum": 0}}},
    {"data": {"name": "lastcat"},
     "mark": {"type": "rule", "color": "#c0c0c0", "y2Offset": 5},
     "encoding": {"x": {"field": "cat", "type": "nominal", "sort": ["≤ 2 mm", "M.D. 161/2012", "R.P.D. 120/2017"], "bandPosition": 1, "title": null}, "y": {"datum": 0, "type": "quantitative", "title": "Concentration (mg/kg)"}, "y2": {"datum": 0}}},
    {"data": {"name": "tagC"},
     "mark": {"type": "text", "font": "Lato", "fontSize": 17, "align": "center", "baseline": "middle", "dx": 30, "color": "#222"},
     "encoding": {"y": {"field": "y", "type": "quantitative", "title": "Concentration (mg/kg)"}, "text": {"field": "text"}}}
  ]
}
]
}
